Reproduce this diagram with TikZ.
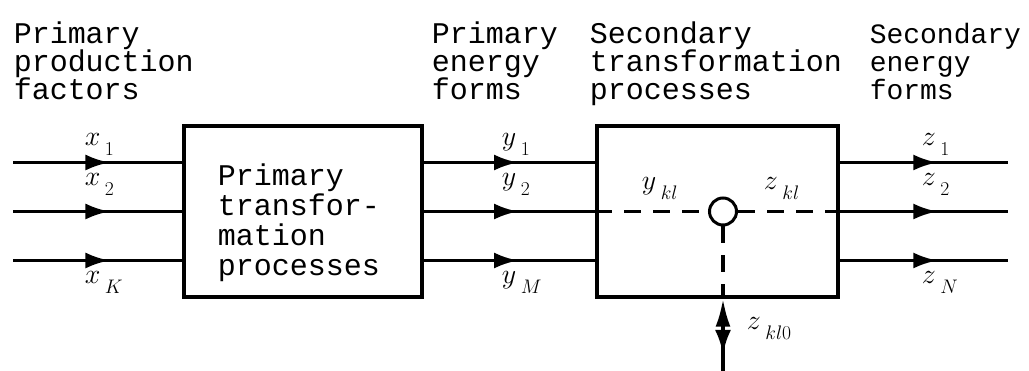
\RequirePackage{fix-cm}
\documentclass[tikz,border=0pt]{standalone}
\usepackage{fontspec}
\setmonofont{Liberation Mono}
\usepackage{tikz}
\usetikzlibrary{arrows.meta,decorations.markings}

% index label with a lowered subscript, as in the typed original
\newcommand{\idxlbl}[2]{$#1\mkern3mu\raisebox{-10pt}{$\scriptstyle #2$}$}

\begin{document}
\begin{tikzpicture}[x=1pt, y=-1pt, line width=3.5pt,
    heading/.style={anchor=north west, inner sep=0pt, align=left,
                    font=\fontsize{30}{28}\selectfont\ttfamily},
    procbox/.style={draw, minimum width=#1, minimum height=171pt, inner sep=0pt},
    boxtext/.style={inner sep=0pt, align=left, font=\fontsize{30}{30}\selectfont\ttfamily},
    flow/.style={postaction={decorate}, decoration={markings,
                 mark=at position #1 with {\arrow{Latex[length=24pt,width=16pt]}}}},
    lbl/.style={anchor=base west, inner sep=0pt, font=\fontsize{28}{28}\selectfont},
    dashline/.style={dash pattern=on 17pt off 12pt}]
  \useasboundingbox (0,0) rectangle (1029,371);

  % column headings
  \node[heading] (hprod) at (12,20) {Primary\\production\\factors};
  \node[heading] (henergy) at (430,20) {Primary\\energy\\forms};
  \node[heading] (hsec) at (588,20) {Secondary\\transformation\\processes};
  \node[heading, font=\fontsize{28}{28}\selectfont\ttfamily] (hsecen) at (868,21)
    {Secondary\\energy\\forms};

  % the two processes
  \node[procbox=238pt] (prim) at (303,211.5) {};
  \node[boxtext] (primtext) at ([xshift=-4pt,yshift=-11pt]prim.center)
    {Primary\\transfor-\\mation\\processes};
  \node[procbox=241pt] (sec) at (717.5,211.5) {};

  % inputs x, primary forms y, outputs z
  \foreach \n/\dy in {1/-49,2/0,3/49} {
    \coordinate (xin\n) at (13,211.5+\dy);
    \coordinate (zout\n) at (1008,211.5+\dy);
    \draw[flow=0.57] (xin\n) -- (xin\n -| prim.west);
    \draw[flow=0.55] (xin\n -| prim.east) -- (xin\n -| sec.west);
    \draw[flow=0.58] (zout\n -| sec.east) -- (zout\n);
  }

  \node[lbl] (lx1) at (83,146) {\idxlbl{x}{1}};
  \node[lbl] (lx2) at (83,186) {\idxlbl{x}{2}};
  \node[lbl] (lxk) at (83,284) {\idxlbl{x}{K}};
  \node[lbl] (ly1) at (500,146) {\idxlbl{y}{1}};
  \node[lbl] (ly2) at (500,186) {\idxlbl{y}{2}};
  \node[lbl] (lym) at (500,284) {\idxlbl{y}{M}};
  \node[lbl] (lz1) at (920,146) {\idxlbl{z}{1}};
  \node[lbl] (lz2) at (920,186) {\idxlbl{z}{2}};
  \node[lbl] (lzn) at (920,284) {\idxlbl{z}{N}};

  % coupling inside the secondary process
  \node[draw, circle, minimum size=27pt, inner sep=0pt, line width=3pt] (junct) at (723,211.5) {};
  \draw[dashline] (sec.west |- junct) -- (junct.west);
  \draw[dashline] (junct.east) -- (sec.east |- junct);
  \draw[dashline] (junct.south) -- (junct |- sec.south);
  \node[lbl] (lykl) at (640,190) {\idxlbl{y}{kl}};
  \node[lbl] (lzkl) at (762,190) {\idxlbl{z}{kl}};

  % exchange with the outside
  \coordinate (exmid) at (723,334);
  \coordinate (exend) at (723,371);
  \draw[-{Latex[length=28pt,width=15pt]}] (exmid) -- (junct |- sec.south);
  \draw[flow=20pt] (exmid) -- (exend);
  \node[lbl] (lzkl0) at (745,330) {\idxlbl{z}{kl0}};
\end{tikzpicture}
\end{document}
